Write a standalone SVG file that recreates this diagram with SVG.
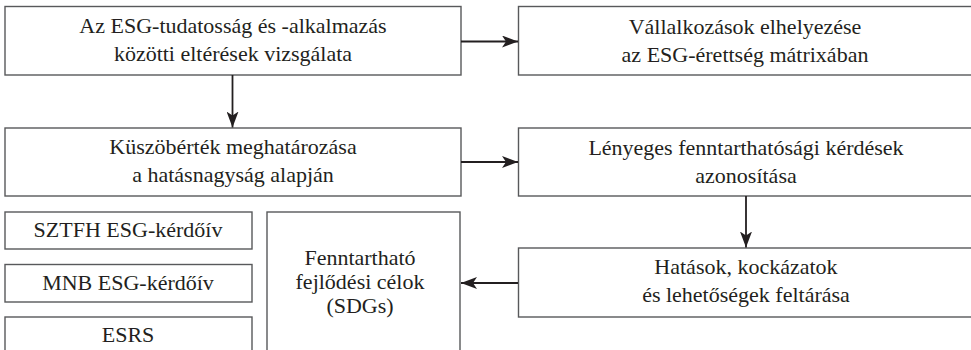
<svg xmlns="http://www.w3.org/2000/svg" width="971" height="350" viewBox="0 0 971 350">
<defs>
<style>
.box{fill:#fff;stroke:#58595b;stroke-width:1.4}
.t{font-family:'Liberation Serif','Times New Roman',serif;font-size:22px;fill:#231f20;text-anchor:middle}
.c{fill:none;stroke:#231f20;stroke-width:1.8}
</style>
<marker id="ah" markerUnits="userSpaceOnUse" markerWidth="16" markerHeight="12" refX="16" refY="6" orient="auto">
<path d="M0,0 L16,6 L0,12 L4,6 Z" fill="#231f20"/>
</marker>
</defs>
<rect width="971" height="350" fill="#fff"/>
<g id="n1">
<rect class="box" x="5" y="6.5" width="456" height="68.5"/>
<text class="t" x="233" y="33">Az ESG-tudatosság és -alkalmazás</text>
<text class="t" x="233" y="61">közötti eltérések vizsgálata</text>
</g>
<g id="n2">
<rect class="box" x="518.5" y="6.5" width="460" height="68.5"/>
<text class="t" x="745" y="34">Vállalkozások elhelyezése</text>
<text class="t" x="745" y="62">az ESG-érettség mátrixában</text>
</g>
<g id="n3">
<rect class="box" x="5" y="128" width="456" height="68"/>
<text class="t" x="233" y="154">Küszöbérték meghatározása</text>
<text class="t" x="233" y="182">a hatásnagyság alapján</text>
</g>
<g id="n4">
<rect class="box" x="518.5" y="128" width="460" height="68"/>
<text class="t" x="746" y="155">Lényeges fenntarthatósági kérdések</text>
<text class="t" x="746" y="183">azonosítása</text>
</g>
<g id="n5">
<rect class="box" x="518.5" y="248" width="460" height="69"/>
<text class="t" x="746" y="274">Hatások, kockázatok</text>
<text class="t" x="746" y="302">és lehetőségek feltárása</text>
</g>
<g id="n6">
<rect class="box" x="267" y="212" width="193" height="150"/>
<text class="t" x="360" y="265">Fenntartható</text>
<text class="t" x="360" y="289">fejlődési célok</text>
<text class="t" x="360" y="313">(SDGs)</text>
</g>
<g id="n7">
<rect class="box" x="5" y="212" width="247" height="37"/>
<text class="t" x="128" y="237">SZTFH ESG-kérdőív</text>
</g>
<g id="n8">
<rect class="box" x="5" y="264.5" width="247" height="37.5"/>
<text class="t" x="128" y="290">MNB ESG-kérdőív</text>
</g>
<g id="n9">
<rect class="box" x="5" y="317" width="247" height="50"/>
<text class="t" x="128" y="342">ESRS</text>
</g>
<g id="connectors">
<line class="c" x1="461" y1="41.5" x2="518" y2="41.5" marker-end="url(#ah)"/>
<line class="c" x1="232.5" y1="75" x2="232.5" y2="127.5" marker-end="url(#ah)"/>
<line class="c" x1="461" y1="162" x2="518" y2="162" marker-end="url(#ah)"/>
<line class="c" x1="746" y1="196" x2="746" y2="247.5" marker-end="url(#ah)"/>
<line class="c" x1="518" y1="283" x2="461" y2="283" marker-end="url(#ah)"/>
</g>
</svg>
